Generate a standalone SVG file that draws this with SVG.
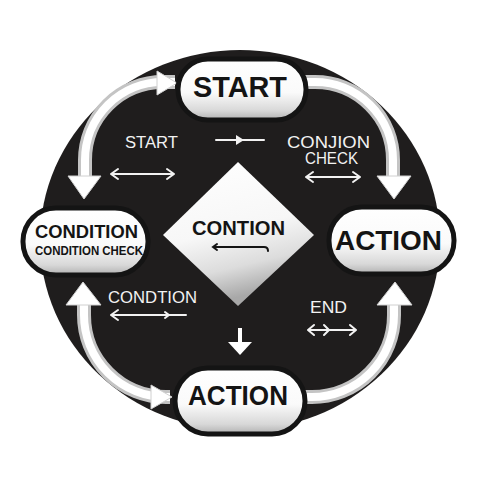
<svg xmlns="http://www.w3.org/2000/svg" width="477" height="480" viewBox="0 0 477 480">
  <defs>
    <linearGradient id="pillGrad" x1="0" y1="0" x2="0" y2="1">
      <stop offset="0" stop-color="#ffffff"/>
      <stop offset="0.55" stop-color="#fafafa"/>
      <stop offset="0.85" stop-color="#d8d8d8"/>
      <stop offset="1" stop-color="#b0b0b0"/>
    </linearGradient>
    <linearGradient id="diaGrad" x1="0" y1="0" x2="0.25" y2="1">
      <stop offset="0" stop-color="#ffffff"/>
      <stop offset="0.55" stop-color="#f7f7f7"/>
      <stop offset="0.8" stop-color="#dcdcdc"/>
      <stop offset="1" stop-color="#a8a8a8"/>
    </linearGradient>
    <style>
      .pill { fill: url(#pillGrad); stroke: #141414; stroke-width: 5; }
      .ntext { font-family: "Liberation Sans", Arial, sans-serif; font-weight: bold; fill: #141414; text-anchor: middle; }
      .lbl { font-family: "Liberation Sans", Arial, sans-serif; fill: #f2f2f2; text-anchor: middle; font-size: 16px; }
      .band-o { fill: none; stroke: #c4c4c4; stroke-width: 14; }
      .band-i { fill: none; stroke: #ffffff; stroke-width: 8; }
      .head { fill: #ffffff; stroke: #d0d0d0; stroke-width: 1; }
      .thin { fill: none; stroke: #f2f2f2; stroke-width: 2; stroke-linecap: round; stroke-linejoin: round; }
    </style>
  </defs>

  <rect x="0" y="0" width="477" height="480" fill="#ffffff"/>
  <ellipse id="backdrop" cx="240" cy="240" rx="200" ry="190" fill="#1f1d1d"/>

  <g id="connectors">
    <!-- top-left arc: START <-> CONDITION -->
    <path class="band-o" d="M175 82 L163 82 A78 78 0 0 0 85 160 L85 178"/>
    <path class="band-i" d="M175 82 L163 82 A78 78 0 0 0 85 160 L85 178"/>
    <polygon class="head" points="68,176 101,176 84,199"/>
    <polygon class="head" points="157,71 157,95 177,83"/>
    <!-- top-right arc: START -> ACTION -->
    <path class="band-o" d="M300 82 L315 82 A78 78 0 0 1 393 160 L393 178"/>
    <path class="band-i" d="M300 82 L315 82 A78 78 0 0 1 393 160 L393 178"/>
    <polygon class="head" points="377,176 411,176 394,199"/>
    <!-- bottom-left arc: CONDITION <-> ACTION -->
    <path class="band-o" d="M84 302 L84 315 A82 82 0 0 0 166 397 L170 397"/>
    <path class="band-i" d="M84 302 L84 315 A82 82 0 0 0 166 397 L170 397"/>
    <polygon class="head" points="66,305 101,305 83,282"/>
    <polygon class="head" points="151,385 151,409 172,397"/>
    <!-- bottom-right arc: ACTION -> ACTION -->
    <path class="band-o" d="M300 397 L312 397 A82 82 0 0 0 394 315 L394 302"/>
    <path class="band-i" d="M300 397 L312 397 A82 82 0 0 0 394 315 L394 302"/>
    <polygon class="head" points="377,305 412,305 395,282"/>
    <!-- down arrow under diamond -->
    <line x1="240" y1="328" x2="240" y2="345" stroke="#ffffff" stroke-width="4"/>
    <polygon points="228,342 252,342 240,355" fill="#ffffff"/>
    <!-- small inner arrows -->
    <path class="thin" d="M111 174 L174 174 M118 169 L111 174 L118 179 M167 169 L174 174 L167 179"/>
    <path class="thin" d="M216 140 L264 140"/>
    <polygon points="236,135 236,145 244,140" fill="#f2f2f2"/>
    <path class="thin" d="M306 177 L360 177 M313 172 L306 177 L313 182 M353 172 L360 177 L353 182"/>
    <path class="thin" d="M111 315 L186 315 M118 310 L111 315 L118 320 M165 312 L169 315 L165 318"/>
    <path class="thin" d="M308 330 L356 330 M314 325 L308 330 L314 335 M324 325 L329 330 L324 335 M350 325 L356 330 L350 335"/>
  </g>

  <g id="labels">
    <text class="lbl" x="151.5" y="148" textLength="53" lengthAdjust="spacingAndGlyphs">START</text>
    <text class="lbl" x="328.5" y="148" textLength="83" lengthAdjust="spacingAndGlyphs">CONJION</text>
    <text class="lbl" x="331.5" y="164" textLength="53" lengthAdjust="spacingAndGlyphs">CHECK</text>
    <text class="lbl" x="152.5" y="303" textLength="89" lengthAdjust="spacingAndGlyphs">CONDTION</text>
    <text class="lbl" x="328.5" y="313" textLength="37" lengthAdjust="spacingAndGlyphs">END</text>
  </g>

  <g id="node-diamond">
    <polygon points="238,162 314,235 238,306 163,235" fill="url(#diaGrad)"/>
    <text class="ntext" x="238.5" y="235" font-size="20" textLength="93" lengthAdjust="spacingAndGlyphs">CONTION</text>
    <path d="M217 244 L213 247 L217 250 M213 247 L264 247 Q268 247 268 251" fill="none" stroke="#141414" stroke-width="2" stroke-linecap="round"/>
  </g>

  <g id="node-start">
    <rect class="pill" x="178" y="59" width="128" height="61" rx="30"/>
    <text class="ntext" x="240" y="97" font-size="29" textLength="94" lengthAdjust="spacingAndGlyphs">START</text>
  </g>

  <g id="node-action-right">
    <rect class="pill" x="329" y="207" width="125" height="67" rx="33"/>
    <text class="ntext" x="388.5" y="250" font-size="28" textLength="107" lengthAdjust="spacingAndGlyphs">ACTION</text>
  </g>

  <g id="node-action-bottom">
    <rect class="pill" x="175" y="368" width="130" height="66" rx="33"/>
    <text class="ntext" x="238" y="405" font-size="27" textLength="100" lengthAdjust="spacingAndGlyphs">ACTION</text>
  </g>

  <g id="node-condition">
    <rect class="pill" x="23" y="208" width="125" height="67" rx="33"/>
    <text class="ntext" x="86.5" y="238" font-size="19" textLength="103" lengthAdjust="spacingAndGlyphs">CONDITION</text>
    <text class="ntext" x="89" y="255" font-size="12" textLength="108" lengthAdjust="spacingAndGlyphs">CONDITION CHECK</text>
  </g>
</svg>
